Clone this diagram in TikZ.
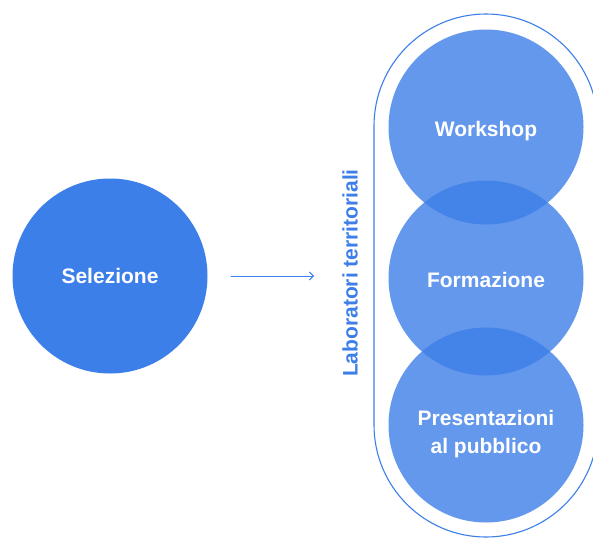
\documentclass[tikz,border=0pt]{standalone}
\usepackage{fontspec}
\setmainfont{Liberation Sans}
\usetikzlibrary{arrows.meta}
\definecolor{blu}{RGB}{61,127,232}
\newcommand{\giu}[2]{\raisebox{#1}[0pt][0pt]{#2}}
\tikzset{
	fase/.style={circle,fill=blu,minimum size=195pt,inner sep=0pt,text=white,font=\bfseries\fontsize{21}{24}\selectfont,align=center},
	lab/.style={fase,fill opacity=0.8,text opacity=1},
	freccia/.style={draw=blu,line width=0.9pt,-{Straight Barb[length=4pt,width=8pt]}}
}

\begin{document}
\begin{tikzpicture}[line cap=round,line join=round,x=1pt,y=-1pt]
		\useasboundingbox (0,0) rectangle (593,538);
		\clip (0,0) rectangle (593,538);
		\fill[white] (0,0) rectangle (593,538);
		% contorno dei laboratori
		\draw [blu,line width=1.1pt,rounded corners=112pt] (374,14) rectangle (598,537);
		\node[fase] (sel) at (110,276) {\giu{-7.5pt}{Selezione}};
		\node[lab] (work) at (486,127) {\giu{-9.5pt}{Workshop}};
		\node[lab] (form) at (486,278) {\giu{-9.5pt}{Formazione}};
		\node[lab] (pres) at (486,425) {\giu{-0.5pt}{\begin{tabular}[t]{@{}c@{}}Presentazioni\\[4pt]al pubblico\end{tabular}}};
		\node[rotate=90,text=blu,font=\bfseries\fontsize{21}{24}\selectfont] (lt) at (350,273) {Laboratori territoriali};
		\coordinate (a) at (231,276);
		\coordinate (b) at (314,276);
		\draw [freccia] (a) -- (b);
	\end{tikzpicture}
\end{document}
